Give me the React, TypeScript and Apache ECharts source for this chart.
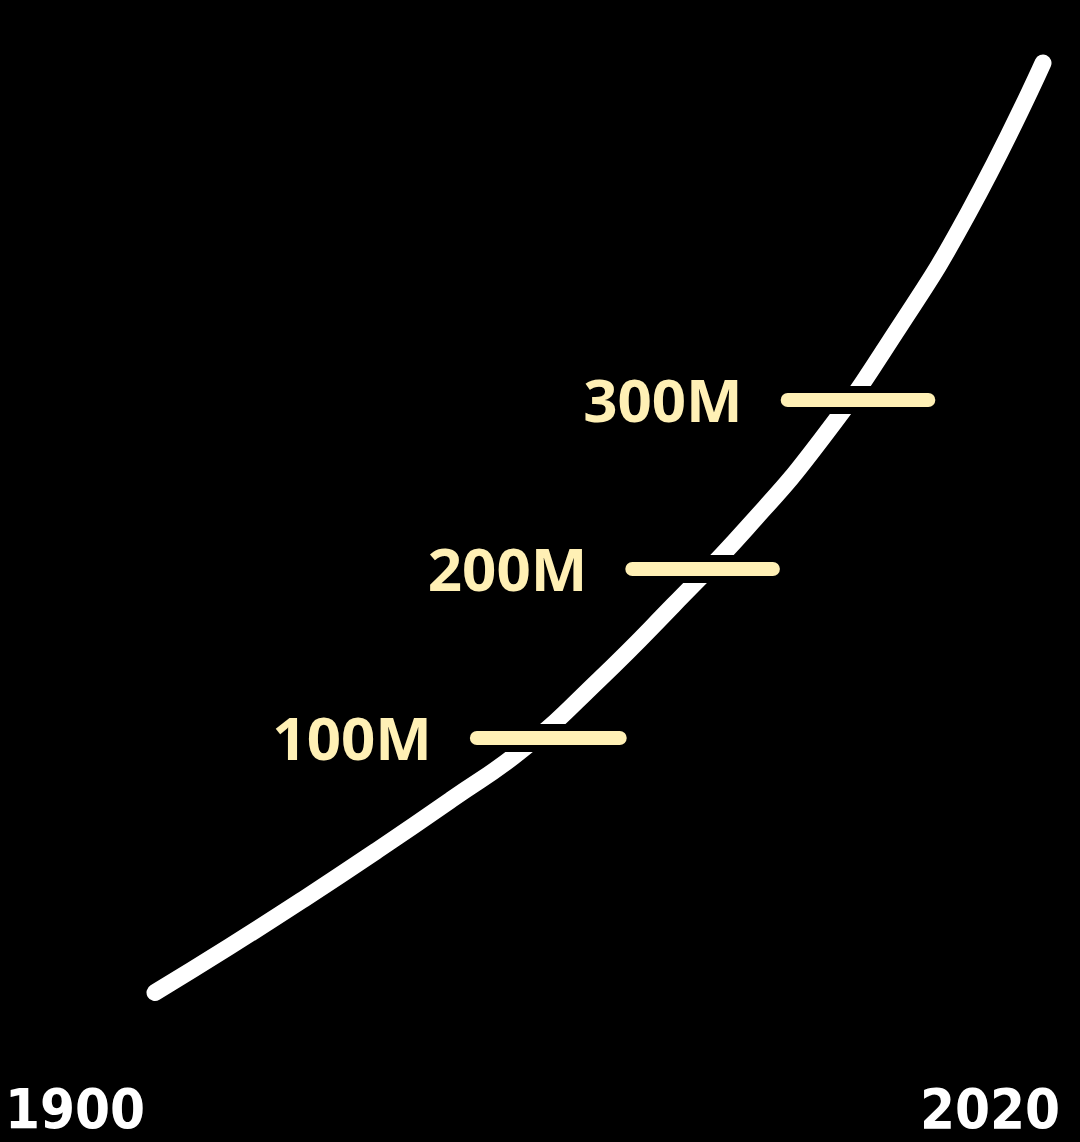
import React, { useEffect, useRef } from 'react'
import * as echarts from 'echarts'

// line values (millions)
const years = [1900, 1910, 1920, 1930, 1940, 1950, 1960, 1970, 1980, 1990, 2000, 2010, 2020]
const values = [-51, -24, 4, 33, 63, 94, 134, 178, 224, 276, 339, 411, 499]

// horizontal markers
const markerValues = [100, 200, 300]
const markerLabels = ['100M', '200M', '300M']
const markerFrom = [1943.5, 1964.5, 1985.5]
const markerTo = [1962.8, 1983.5, 2004.5]

// x tick labels
const tickYears = [1900, 2020]

const yearFont = "'Liberation Sans Narrow', 'DejaVu Sans Condensed', sans-serif"

const App: React.FC = () => {
  const chartRef = useRef<HTMLDivElement>(null)

  useEffect(() => {
    if (!chartRef.current) return
    const chart = echarts.init(chartRef.current, undefined, { renderer: 'svg' })

    const segments = markerValues.map((v, i) => [
      { coord: [markerFrom[i], v], name: markerLabels[i] },
      { coord: [markerTo[i], v] }
    ])

    const option = {
      animation: false,
      backgroundColor: '#000000',
      grid: {
        left: 155,
        right: 37,
        top: 61.3,
        bottom: 66.7,
        containLabel: false,
        outerBoundsMode: 'none'
      },
      xAxis: {
        type: 'value',
        min: 1900,
        max: 2020,
        axisLine: { show: false },
        axisTick: { show: false },
        splitLine: { show: false },
        axisLabel: {
          customValues: tickYears,
          margin: 5,
          formatter: (v: number) => (v === tickYears[0] ? `{a|${v}}` : `{b|${v}}`),
          rich: {
            a: {
              color: '#ffffff',
              fontSize: 56,
              lineHeight: 56,
              fontWeight: 'bold',
              fontFamily: yearFont,
              padding: [0, 160, 0, 0]
            },
            b: {
              color: '#ffffff',
              fontSize: 56,
              lineHeight: 56,
              fontWeight: 'bold',
              fontFamily: yearFont,
              padding: [0, 106, 0, 0]
            }
          }
        }
      },
      yAxis: {
        type: 'value',
        min: -100,
        max: 500,
        show: false
      },
      series: [
        {
          type: 'line',
          data: years.map((y, i) => [y, values[i]]),
          smooth: true,
          showSymbol: false,
          clip: false,
          z: 2,
          lineStyle: { color: '#ffffff', width: 17, cap: 'round' }
        },
        {
          type: 'line',
          data: [],
          z: 3,
          markLine: {
            silent: true,
            symbol: ['none', 'none'],
            label: { show: false },
            lineStyle: { color: '#000000', width: 28, type: 'solid', cap: 'round' },
            data: segments
          }
        },
        {
          type: 'line',
          data: [],
          z: 4,
          markLine: {
            silent: true,
            symbol: ['none', 'none'],
            lineStyle: { color: '#FFF0B5', width: 14, type: 'solid', cap: 'round' },
            label: {
              show: true,
              position: 'start',
              distance: 45,
              formatter: '{b}',
              color: '#FFF0B5',
              fontSize: 60,
              fontWeight: 'bold',
              fontFamily: "'Noto Sans', sans-serif"
            },
            data: segments
          }
        }
      ]
    }

    chart.setOption(option)
    return () => {
      chart.dispose()
    }
  }, [])

  return (
    <div
      ref={chartRef}
      style={{ position: 'fixed', left: 0, top: 0, width: 1080, height: 1142, background: '#000000' }}
    />
  )
}

export default App
